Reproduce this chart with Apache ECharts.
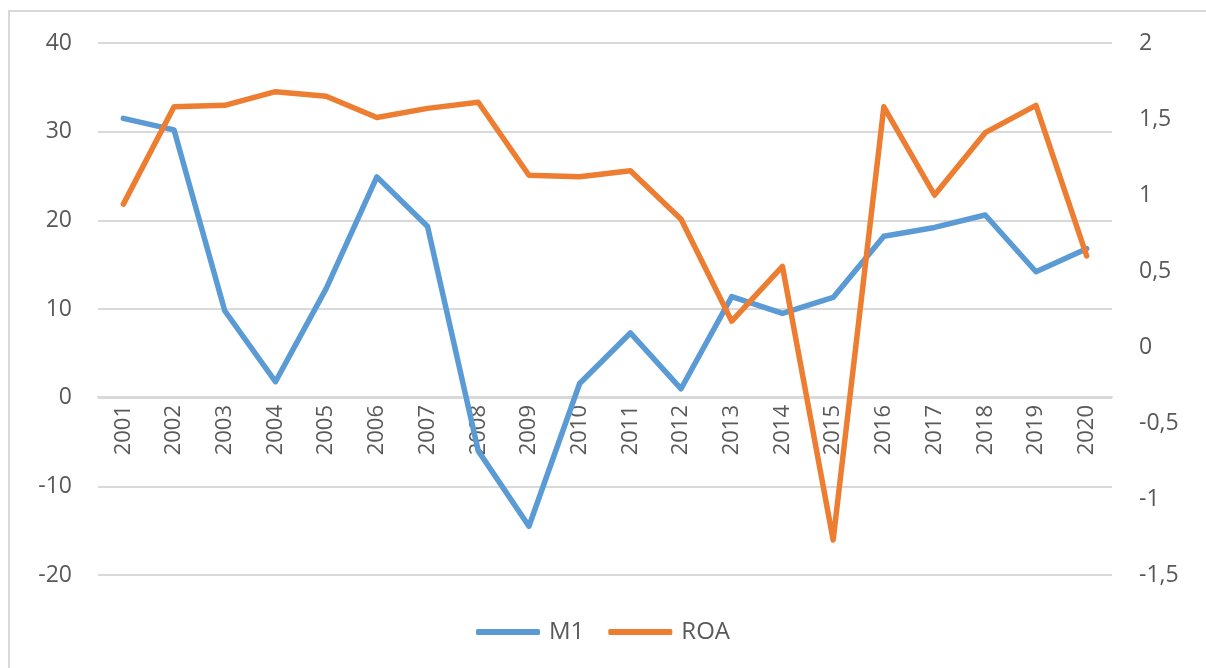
<!DOCTYPE html>
<html>
<head>
<meta charset="utf-8">
<script src="https://cdn.jsdelivr.net/npm/echarts@6/dist/echarts.min.js"></script>
<style>
* { margin: 0; padding: 0; }
body { background: #fff; width: 1206px; height: 668px; overflow: hidden; position: relative; }
#frame { position: absolute; left: 8px; top: 10px; width: 1210px; height: 680px; border: 2px solid #d9d9d9; box-sizing: border-box; }
#chart-container { position: absolute; left: 0; top: 0; width: 1206px; height: 668px; }
</style>
</head>
<body>
<div id="frame"></div>
<div id="chart-container"></div>
<script>
// years on the category axis
const years = ['2001', '2002', '2003', '2004', '2005', '2006', '2007', '2008', '2009', '2010',
    '2011', '2012', '2013', '2014', '2015', '2016', '2017', '2018', '2019', '2020'];
// M1 growth (left axis)
const m1 = [31.5, 30.2, 9.8, 1.8, 12.3, 24.9, 19.3, -6.0, -14.5, 1.6,
    7.3, 1.0, 11.4, 9.5, 11.3, 18.2, 19.2, 20.6, 14.2, 16.8];
// ROA (right axis)
const roa = [0.94, 1.58, 1.59, 1.68, 1.65, 1.51, 1.57, 1.61, 1.13, 1.12,
    1.16, 0.84, 0.17, 0.53, -1.27, 1.58, 1.0, 1.41, 1.59, 0.6];

const dom = document.getElementById('chart-container');
const myChart = echarts.init(dom, null, { renderer: 'canvas' });

const txt = { color: '#595959', fontSize: 23, fontFamily: 'Open Sans' };

// grid box: 0 of the left axis sits 178px above the bottom gridline
const option = {
    animation: false,
    grid: { left: 98, right: 94, top: 43, bottom: 93, containLabel: false },
    legend: {
        bottom: 19,
        left: 'center',
        itemWidth: 64,
        itemHeight: 6,
        itemGap: 24,
        icon: 'roundRect',
        textStyle: Object.assign({}, txt, { fontSize: 24, padding: [0, 0, 0, 4] }),
        data: ['M1', 'ROA']
    },
    xAxis: {
        type: 'category',
        data: years,
        boundaryGap: true,
        position: 'bottom',
        offset: -178,
        axisLine: { onZero: false, lineStyle: { color: '#d9d9d9', width: 2 } },
        axisTick: { show: false },
        axisLabel: Object.assign({ rotate: 90, margin: 8, interval: 0 }, txt, { fontSize: 22 })
    },
    yAxis: [
        {
            type: 'value',
            min: -20, max: 40, interval: 10,
            axisLine: { show: false },
            axisTick: { show: false },
            splitLine: { lineStyle: { color: '#d9d9d9', width: 2 } },
            axisLabel: Object.assign({ margin: 26 }, txt)
        },
        {
            type: 'value',
            min: -1.5, max: 2, interval: 0.5,
            axisLine: { show: false },
            axisTick: { show: false },
            splitLine: { show: false },
            axisLabel: Object.assign({
                margin: 27,
                formatter: v => String(v).replace('.', ',')
            }, txt)
        }
    ],
    series: [
        {
            name: 'M1',
            type: 'line',
            yAxisIndex: 0,
            data: m1,
            showSymbol: false,
            symbol: 'none',
            lineStyle: { color: '#5B9BD5', width: 5.5, cap: 'round', join: 'round' },
            itemStyle: { color: '#5B9BD5' },
            z: 2
        },
        {
            name: 'ROA',
            type: 'line',
            yAxisIndex: 1,
            data: roa,
            showSymbol: false,
            symbol: 'none',
            lineStyle: { color: '#ED7D31', width: 5.5, cap: 'round', join: 'round' },
            itemStyle: { color: '#ED7D31' },
            z: 3
        }
    ]
};

myChart.setOption(option);
window.addEventListener('resize', () => { myChart.resize(); });
</script>
</body>
</html>
